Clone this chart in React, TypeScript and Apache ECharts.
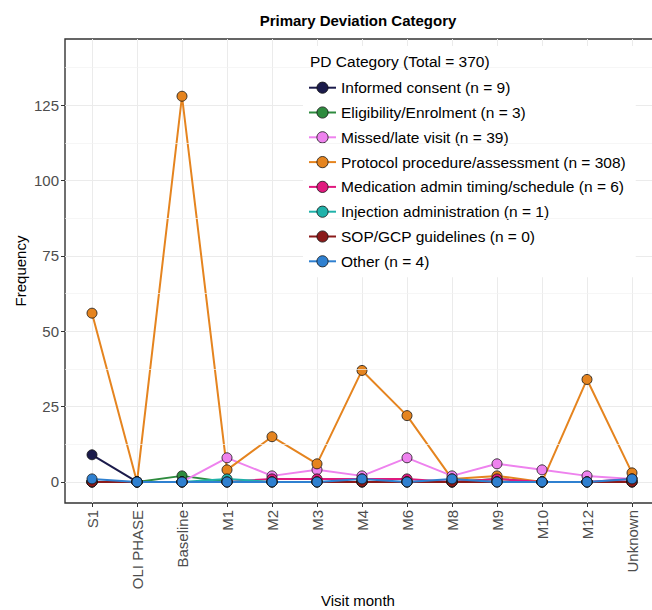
import React, { useEffect, useRef } from "react";
import * as echarts from "echarts";

const categories = ["S1", "OLI PHASE", "Baseline", "M1", "M2", "M3", "M4", "M6", "M8", "M9", "M10", "M12", "Unknown"];

const informedConsent = [9, 0, 0, 0, 0, 0, 0, 0, 0, 0, 0, 0, 0];
const eligibility = [0, 0, 2, 0, 0, 0, 0, 0, 0, 1, 0, 0, 0];
const missedLate = [0, 0, 0, 8, 2, 4, 2, 8, 2, 6, 4, 2, 1];
const protocol = [56, 0, 128, 4, 15, 6, 37, 22, 1, 2, 0, 34, 3];
const medication = [0, 0, 0, 0, 1, 1, 1, 1, 0, 1, 0, 0, 1];
const injection = [0, 0, 0, 1, 0, 0, 0, 0, 0, 0, 0, 0, 0];
const sopGcp = [0, 0, 0, 0, 0, 0, 0, 0, 0, 0, 0, 0, 0];
const other = [1, 0, 0, 0, 0, 0, 1, 0, 1, 0, 0, 0, 1];

const seriesLabels = [
  "Informed consent (n = 9)",
  "Eligibility/Enrolment (n = 3)",
  "Missed/late visit (n = 39)",
  "Protocol procedure/assessment (n = 308)",
  "Medication admin timing/schedule (n = 6)",
  "Injection administration (n = 1)",
  "SOP/GCP guidelines (n = 0)",
  "Other (n = 4)",
];
const seriesValues = [informedConsent, eligibility, missedLate, protocol, medication, injection, sopGcp, other];
const seriesColors = ["#1b1b4b", "#2e8b3e", "#ee82ee", "#e5841f", "#e0197e", "#20b2aa", "#8b1a1a", "#2f80d0"];

const yMajorTicks = [0, 25, 50, 75, 100, 125];
const yMinorTicks = [12.5, 37.5, 62.5, 87.5, 112.5, 137.5];
const legendTitle = "PD Category (Total = 370)";
const chartTitle = "Primary Deviation Category";
const xTitle = "Visit month";
const yTitle = "Frequency";

const FONT = "Liberation Sans";

export default function App() {
  const ref = useRef<HTMLDivElement>(null);
  useEffect(() => {
    document.body.style.margin = "0";
    const chart = echarts.init(ref.current!, undefined, { renderer: "svg" });
    const top = 39;
    const bottom = 107;
    const lineSeries = seriesLabels.map((name, i) => ({
      type: "line",
      name: name + " line",
      xAxisIndex: 1,
      yAxisIndex: 1,
      data: seriesValues[i],
      showSymbol: false,
      symbol: "none",
      clip: false,
      z: 2,
      silent: true,
      lineStyle: { color: seriesColors[i], width: 2 },
    }));
    const pointSeries = seriesLabels.map((name, i) => ({
      type: "line",
      name,
      xAxisIndex: 1,
      yAxisIndex: 1,
      data: seriesValues[i],
      symbol: "circle",
      symbolSize: 10,
      showSymbol: true,
      clip: false,
      z: 3,
      silent: true,
      lineStyle: { width: 0, opacity: 0 },
      itemStyle: { color: seriesColors[i], borderColor: "#111", borderWidth: 0.8 },
    }));
    chart.setOption({
      animation: false,
      textStyle: { fontFamily: FONT },
      grid: [
        {
          left: 65,
          right: -7,
          top,
          bottom,
          show: true,
          backgroundColor: "#fff",
          borderColor: "#333",
          borderWidth: 1.4,
          outerBoundsMode: "none",
          containLabel: false,
          z: 0,
        },
        { left: 92, right: 20, top, bottom, outerBoundsMode: "none", containLabel: false },
      ],
      xAxis: [
        { type: "value", gridIndex: 0, min: 0, max: 1, show: false },
        {
          type: "category",
          gridIndex: 1,
          data: categories,
          boundaryGap: false,
          axisLine: { show: false, onZero: false },
          axisTick: { show: true, length: 4, lineStyle: { color: "#333" } },
          axisLabel: { rotate: 90, fontSize: 15, color: "#4d4d4d", margin: 7, fontFamily: FONT, interval: 0 },
          splitLine: { show: true, lineStyle: { color: "#ebebeb", width: 1 } },
        },
      ],
      yAxis: [
        {
          type: "value",
          gridIndex: 0,
          min: -7,
          max: 147,
          axisLine: { show: false },
          axisTick: { show: true, length: 4, customValues: yMajorTicks, lineStyle: { color: "#333" } },
          axisLabel: { customValues: yMajorTicks, fontSize: 15, color: "#4d4d4d", margin: 6, fontFamily: FONT },
          splitLine: { show: true, lineStyle: { color: "#ebebeb", width: 1 } },
        },
        { type: "value", gridIndex: 1, min: -7, max: 147, show: false, splitLine: { show: false } },
      ],
      legend: {
        orient: "vertical",
        left: 303,
        top: 46,
        padding: [33.7, 10, 8, 5],
        itemWidth: 27,
        itemHeight: 14,
        itemGap: 8.8,
        backgroundColor: "#fff",
        selectedMode: false,
        textStyle: { fontSize: 15.5, color: "#000", fontFamily: FONT },
        data: seriesLabels.map((name, i) => ({
          name,
          itemStyle: { color: seriesColors[i], borderColor: "#111", borderWidth: 0.8 },
          lineStyle: { color: seriesColors[i], width: 2, opacity: 1 },
        })),
      },
      graphic: [
        {
          type: "text",
          x: 358,
          y: 20,
          z: 100,
          style: { text: chartTitle, font: `bold 15px "${FONT}"`, fill: "#000", textAlign: "center", textVerticalAlign: "middle" },
        },
        {
          type: "text",
          x: 310,
          y: 61,
          z: 100,
          style: { text: legendTitle, font: `15.5px "${FONT}"`, fill: "#000", textAlign: "left", textVerticalAlign: "middle" },
        },
        {
          type: "text",
          x: 358,
          y: 600,
          z: 100,
          style: { text: xTitle, font: `15px "${FONT}"`, fill: "#000", textAlign: "center", textVerticalAlign: "middle" },
        },
        {
          type: "text",
          x: 20,
          y: 271,
          rotation: Math.PI / 2,
          z: 100,
          style: { text: yTitle, font: `15px "${FONT}"`, fill: "#000", textAlign: "center", textVerticalAlign: "middle" },
        },
      ],
      series: [
        {
          type: "line",
          name: "minor grid",
          xAxisIndex: 0,
          yAxisIndex: 0,
          data: [],
          silent: true,
          z: 1,
          markLine: {
            silent: true,
            symbol: "none",
            label: { show: false },
            lineStyle: { color: "#f2f2f2", width: 0.7, type: "solid" },
            data: yMinorTicks.map((v) => ({ yAxis: v })),
          },
        },
        ...lineSeries,
        ...pointSeries,
      ],
    });
    return () => chart.dispose();
  }, []);
  return <div ref={ref} style={{ width: 652, height: 610, position: "absolute", left: 0, top: 0 }} />;
}
